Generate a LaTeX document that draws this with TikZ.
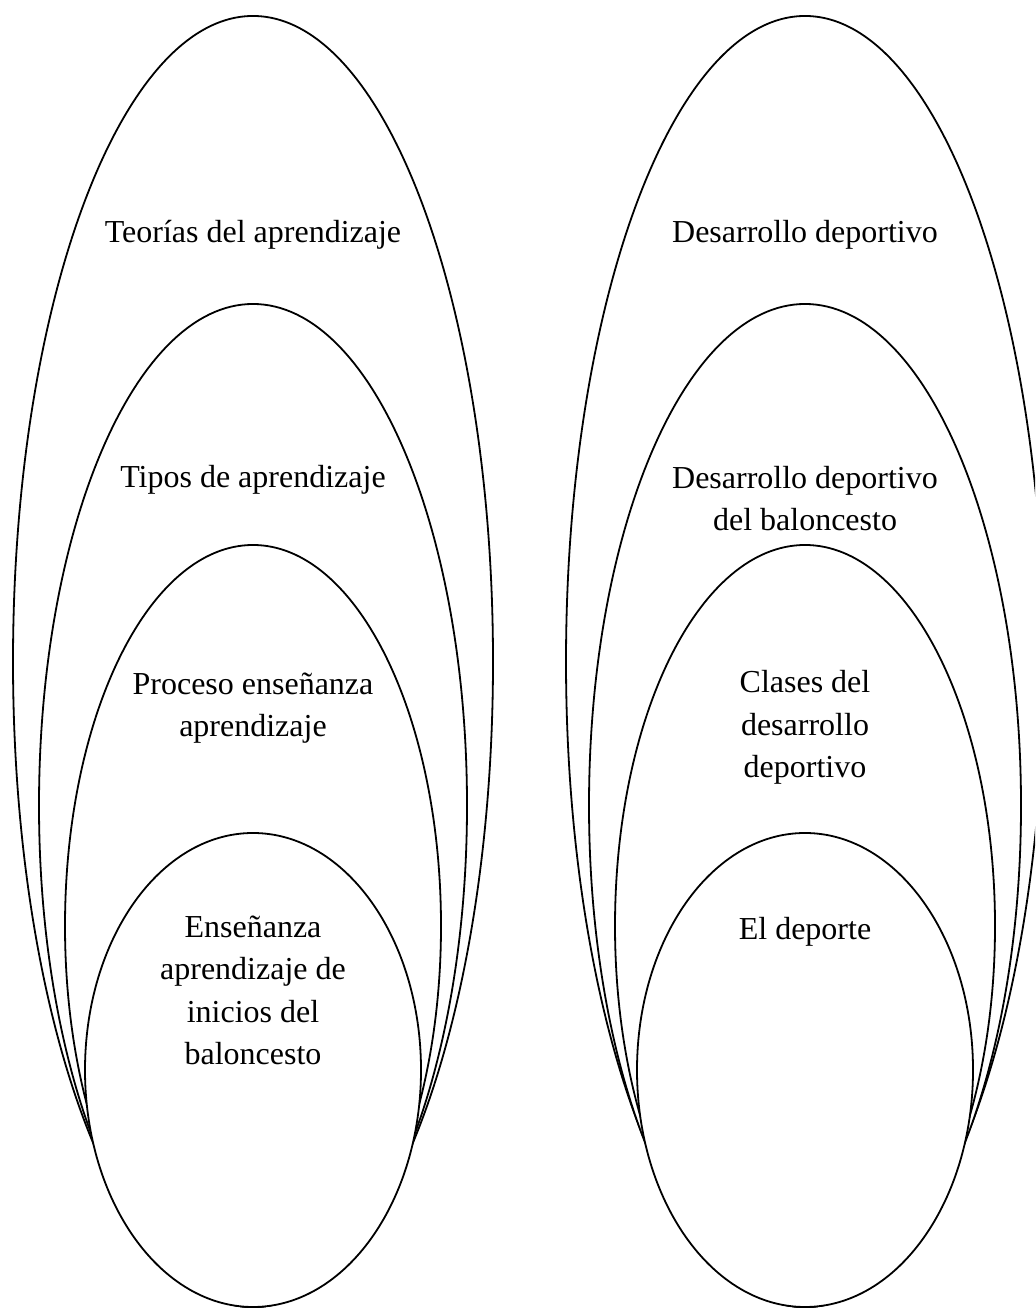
\documentclass[tikz,border=0pt]{standalone}
\usepackage{fontspec}
\setmainfont{Liberation Serif}
\usepackage{tikz}

\begin{document}
\begin{tikzpicture}[x=0.5pt, y=0.5pt,
    ring/.style={draw=black, fill=white, line width=0.9pt},
    lbl/.style={anchor=base, align=center, inner sep=0pt, font=\fontsize{16}{21.3}\selectfont}]
    \clip (0,0) rectangle (1035,1309);

    % left group: nested ellipses sharing the bottom point
    \foreach \rx/\ry in {240/645.5, 214/501.5, 188/381, 168/237}
        \filldraw[ring] (253,2+\ry) ellipse [x radius=\rx, y radius=\ry];

    % right group
    \foreach \rx/\ry in {239/645.5, 216/501.5, 190/381, 168/237}
        \filldraw[ring] (805,2+\ry) ellipse [x radius=\rx, y radius=\ry];

    % labels (base = baseline of the last line)
    \node[lbl] (teorias) at (253,1066) {Teorías del aprendizaje};
    \node[lbl] (tipos) at (253,821) {Tipos de aprendizaje};
    \node[lbl] (proceso) at (253,572) {Proceso enseñanza\\aprendizaje};
    \node[lbl] (inicios) at (253,244) {Enseñanza\\aprendizaje de\\inicios del\\baloncesto};

    \node[lbl] (desarrollo) at (805,1066) {Desarrollo deportivo};
    \node[lbl] (baloncesto) at (805,778) {Desarrollo deportivo\\del baloncesto};
    \node[lbl] (clases) at (805,531) {Clases del\\desarrollo\\deportivo};
    \node[lbl] (deporte) at (805,369) {El deporte};
\end{tikzpicture}
\end{document}
